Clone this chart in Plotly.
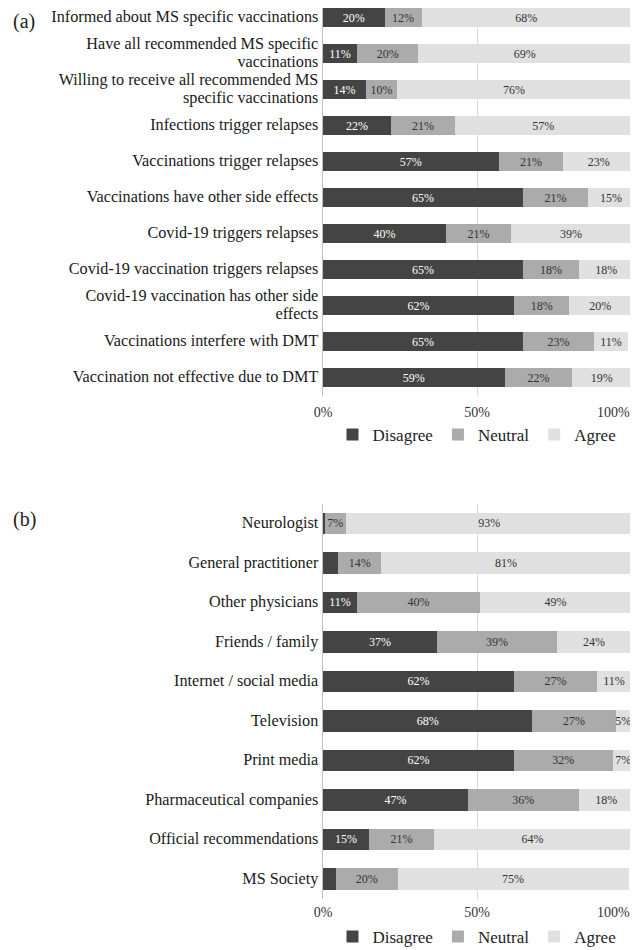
import plotly.graph_objects as go

# ---------------- data ----------------
cats_a = [
    "Informed about MS specific vaccinations",
    "Have all recommended MS specific<br>vaccinations",
    "Willing to receive all recommended MS<br>specific vaccinations",
    "Infections trigger relapses",
    "Vaccinations trigger relapses",
    "Vaccinations have other side effects",
    "Covid-19 triggers relapses",
    "Covid-19 vaccination triggers relapses",
    "Covid-19 vaccination has other side<br>effects",
    "Vaccinations interfere with DMT",
    "Vaccination not effective due to DMT",
]
disagree_a = [20, 11, 14, 22, 57, 65, 40, 65, 62, 65, 59]
neutral_a = [12, 20, 10, 21, 21, 21, 21, 18, 18, 23, 22]
agree_a = [68, 69, 76, 57, 23, 15, 39, 18, 20, 11, 19]

cats_b = [
    "Neurologist",
    "General practitioner",
    "Other physicians",
    "Friends / family",
    "Internet / social media",
    "Television",
    "Print media",
    "Pharmaceutical companies",
    "Official recommendations",
    "MS Society",
]
disagree_b = [0.5, 4.9, 11, 37, 62, 68, 62, 47, 15, 4.2]
neutral_b = [7, 14, 40, 39, 27, 27, 32, 36, 21, 20]
agree_b = [93, 81, 49, 24, 11, 5, 7, 18, 64, 75]

series_names = ["Disagree", "Neutral", "Agree"]
x_ticks = [0, 50, 100]
x_tick_labels = ["0%", "50%", "100%"]

# ---------------- style ----------------
colors = {"Disagree": "#444444", "Neutral": "#ababab", "Agree": "#e0e0e0"}
text_colors = {"Disagree": "white", "Neutral": "#333333", "Agree": "#333333"}
FONT = "Liberation Serif, Times New Roman, serif"
CAT_SIZE = 16.2    # glyph size of category labels
CAT_LINE = 13.5    # base size that sets the (tighter) line spacing


def labels(vals):
    return [f"{round(v)}%" if v >= 5 else "" for v in vals]


def cat_text(c):
    return "<br>".join(f'<span style="font-size:{CAT_SIZE}px">{ln}</span>'
                       for ln in c.split("<br>"))


fig = go.Figure()

panels = [
    ("y", "x", "legend", cats_a, [disagree_a, neutral_a, agree_a]),
    ("y2", "x2", "legend2", cats_b, [disagree_b, neutral_b, agree_b]),
]
for yref, xref, leg, cats, series in panels:
    for name, vals in zip(series_names, series):
        fig.add_trace(go.Bar(
            y=cats, x=vals, name=name, orientation="h",
            xaxis=xref, yaxis=yref, legend=leg,
            marker=dict(color=colors[name], line=dict(width=0)),
            text=labels(vals), textposition="inside",
            insidetextanchor="middle", textangle=0,
            textfont=dict(family=FONT, size=12, color=text_colors[name]),
            hoverinfo="skip",
        ))

# page body adds an 8px margin, so the figure is 8px smaller each way
W, H = 630, 942
dom_a = [1 - 387.5 / H, 1.0]
dom_b = [1 - 890.6 / H, 1 - 495.6 / H]

# last tick label is right-aligned at the 100% gridline (as in the original)
axis_text = [x_tick_labels[0], x_tick_labels[1], ""]

xcommon = dict(
    range=[0, 100], tickvals=x_ticks, ticktext=axis_text,
    showgrid=True, gridcolor="#d9d9d9", gridwidth=1,
    zeroline=False, showline=False, ticks="",
    tickfont=dict(family=FONT, size=14, color="#333333"),
    fixedrange=True,
)
ycommon = dict(
    showgrid=False, zeroline=False,
    showline=True, linecolor="#bfbfbf", linewidth=1, ticks="",
    tickfont=dict(family=FONT, size=CAT_LINE, color="#1a1a1a"),
    ticklabelstandoff=1, fixedrange=True,
)

legend_common = dict(
    orientation="h", x=0.5, xanchor="center", yanchor="middle",
    itemwidth=30, traceorder="normal",
    font=dict(family=FONT, size=17, color="#222222"),
    bgcolor="rgba(0,0,0,0)",
)

annotations = [
    dict(text="(a)", xref="paper", yref="paper", x=-312 / 308,
         y=1.0, xanchor="left", yanchor="top", showarrow=False,
         font=dict(family=FONT, size=20, color="#222222")),
    dict(text="(b)", xref="paper", yref="paper", x=-312 / 308,
         y=1 - 511 / H, xanchor="left", yanchor="middle", showarrow=False,
         font=dict(family=FONT, size=20, color="#222222")),
]
for xr, dom, gap in [("x", dom_a, 16.5), ("x2", dom_b, 13.5)]:
    annotations.append(dict(
        text=x_tick_labels[-1], xref=xr, x=x_ticks[-1], yref="paper",
        y=dom[0] - gap / H, xanchor="right", yanchor="middle",
        xshift=1, showarrow=False,
        font=dict(family=FONT, size=14, color="#333333")))

fig.update_layout(
    width=W, height=H,
    margin=dict(l=315, r=7, t=0, b=0, autoexpand=False),
    paper_bgcolor="white", plot_bgcolor="white",
    barmode="stack", bargap=0.46,
    uniformtext=dict(minsize=12, mode="show"),
    font=dict(family=FONT, color="#222222"),
    xaxis=dict(anchor="y", ticklabelstandoff=6, **xcommon),
    xaxis2=dict(anchor="y2", ticklabelstandoff=3, **xcommon),
    yaxis=dict(domain=dom_a, anchor="x", categoryorder="array",
               categoryarray=cats_a, range=[len(cats_a) - 0.5, -0.264],
               tickmode="array", tickvals=cats_a,
               ticktext=[cat_text(c) for c in cats_a], **ycommon),
    yaxis2=dict(domain=dom_b, anchor="x2", categoryorder="array",
                categoryarray=cats_b, range=[len(cats_b) - 0.5, -0.5],
                tickmode="array", tickvals=cats_b,
                ticktext=[cat_text(c) for c in cats_b], **ycommon),
    legend=dict(y=1 - 427 / H, **legend_common),
    legend2=dict(y=1 - 929 / H, **legend_common),
    annotations=annotations,
)

fig.write_html("out.html")
